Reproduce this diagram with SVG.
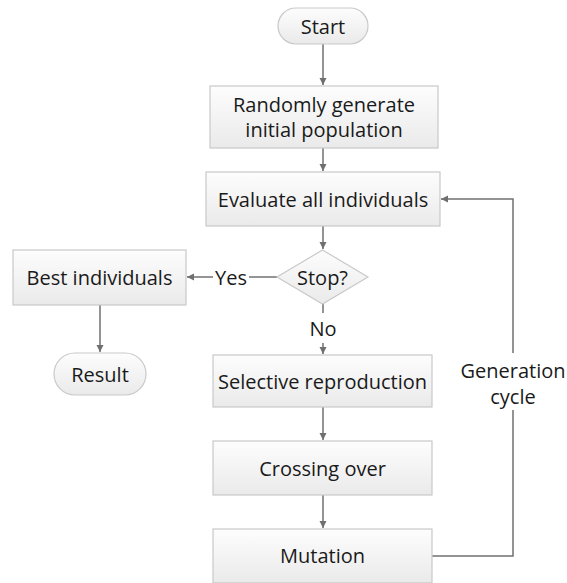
<svg xmlns="http://www.w3.org/2000/svg" width="567" height="583" viewBox="0 0 567 583">
<defs>
<linearGradient id="g" x1="0" y1="0" x2="0" y2="1">
<stop offset="0" stop-color="#fdfdfd"/>
<stop offset="1" stop-color="#eaeaea"/>
</linearGradient>
<marker id="ah" markerWidth="8" markerHeight="8" refX="7" refY="4" orient="auto" markerUnits="userSpaceOnUse">
<path d="M0,0.5 L7,4 L0,7.5 Z" fill="#6f6f6f"/>
</marker>
<style>
.n{fill:url(#g);stroke:#c9c9c9;stroke-width:1.2}
.t{font-family:"Open Sans","Liberation Sans",sans-serif;font-size:20px;fill:#1a1a1a;text-anchor:middle;dominant-baseline:central}
.c{fill:none;stroke:#707070;stroke-width:1.5}
</style>
</defs>
<rect width="567" height="583" fill="#ffffff"/>
<g id="connectors">
<line class="c" x1="323" y1="44" x2="323" y2="85" marker-end="url(#ah)"/>
<line class="c" x1="323" y1="148" x2="323" y2="171" marker-end="url(#ah)"/>
<line class="c" x1="323" y1="226" x2="323" y2="249" marker-end="url(#ah)"/>
<line class="c" x1="277" y1="277" x2="249" y2="277"/>
<line class="c" x1="213" y1="277" x2="187" y2="277" marker-end="url(#ah)"/>
<line class="c" x1="100" y1="305" x2="100" y2="352" marker-end="url(#ah)"/>
<line class="c" x1="323" y1="304" x2="323" y2="313"/>
<line class="c" x1="323" y1="343" x2="323" y2="354" marker-end="url(#ah)"/>
<line class="c" x1="323" y1="407" x2="323" y2="440" marker-end="url(#ah)"/>
<line class="c" x1="323" y1="495" x2="323" y2="528" marker-end="url(#ah)"/>
<polyline class="c" points="432,556 513,556 513,410"/>
<polyline class="c" points="513,353 513,199 441,199" marker-end="url(#ah)"/>
<text class="t" x="231" y="277">Yes</text>
<text class="t" x="323" y="328">No</text>
<text class="t" x="513" y="370">Generation</text>
<text class="t" x="513" y="396">cycle</text>
</g>
<g id="start"><rect class="n" x="278" y="8" width="90" height="36" rx="18"/><text class="t" x="323" y="26">Start</text></g>
<g id="init"><rect class="n" x="210" y="86" width="228" height="62"/><text class="t" x="324" y="104">Randomly generate</text><text class="t" x="324" y="129">initial population</text></g>
<g id="evaluate"><rect class="n" x="206" y="172" width="234" height="54"/><text class="t" x="323" y="199">Evaluate all individuals</text></g>
<g id="stop"><polygon class="n" points="322.5,250 368,277 322.5,304 277,277"/><text class="t" x="322.5" y="277">Stop?</text></g>
<g id="best"><rect class="n" x="13" y="250" width="173" height="55"/><text class="t" x="99.5" y="277.5">Best individuals</text></g>
<g id="result"><rect class="n" x="54" y="353" width="92" height="42" rx="21"/><text class="t" x="100" y="374">Result</text></g>
<g id="selective"><rect class="n" x="213" y="355" width="219" height="52"/><text class="t" x="322.5" y="381">Selective reproduction</text></g>
<g id="crossing"><rect class="n" x="213" y="441" width="219" height="54"/><text class="t" x="322.5" y="468">Crossing over</text></g>
<g id="mutation"><rect class="n" x="213" y="529" width="219" height="54"/><text class="t" x="322.5" y="555">Mutation</text></g>
</svg>
